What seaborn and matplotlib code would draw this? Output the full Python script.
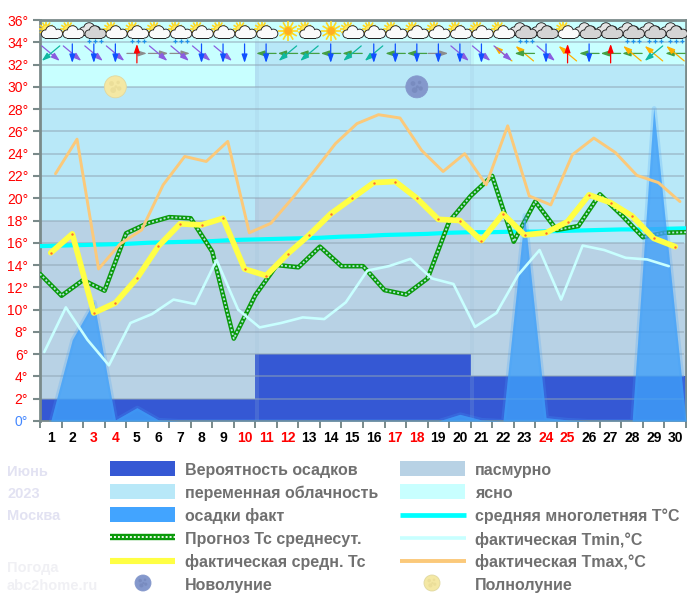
import numpy as np
import pandas as pd
import matplotlib
matplotlib.use("Agg")
import matplotlib.pyplot as plt
from matplotlib.patches import Circle, Rectangle
from matplotlib.transforms import ScaledTranslation
import seaborn as sns

sns.set_style("white")
plt.rcParams['font.family'] = ['Liberation Sans', 'DejaVu Sans']

# ---------- data ----------
days = list(range(1, 31))
weekend_days = [3, 4, 10, 11, 12, 17, 18, 24, 25]
y_ticks = list(range(0, 38, 2))

decade_start = [0, 10, 20]
overcast_top = [18, 20, 16]
partly_top = [30, 34, 32]
clear_top = [36, 36, 36]
precip_prob = [2, 6, 4]

rain_fact = [0, 7.3, 10.7, 0.1, 1.2, 0.1, 0, 0, 0, 0, 0, 0, 0, 0, 0, 0, 0, 0, 0, 0.6,
             0.1, 0, 18.5, 0.3, 0.1, 0, 0, 0, 28.1, 9.3]
t_forecast = [13.2, 11.25, 12.65, 11.7, 16.85, 17.75, 18.3, 18.2, 15.2, 7.4, 11.3, 14.0, 13.8,
              15.65, 13.9, 13.9, 11.75, 11.35, 12.8, 17.9, 20.2, 22.0, 16.1, 19.7, 17.15,
              17.5, 20.35, 18.5, 16.5, 16.9, 16.95]
t_normal = [15.7, 15.75, 15.8, 15.85, 15.9, 16.0, 16.05, 16.1, 16.15, 16.25, 16.3, 16.35, 16.4,
            16.45, 16.55, 16.6, 16.7, 16.75, 16.8, 16.9, 16.95, 16.95, 17.0, 17.0, 17.05,
            17.1, 17.15, 17.2, 17.2, 17.25, 17.3]
t_mean = [15.1, 16.8, 9.7, 10.6, 12.8, 15.7, 17.7, 17.6, 18.2, 13.65, 13.05, 15.0, 16.7, 18.6, 20.0,
          21.4, 21.5, 20.0, 18.1, 18.0, 16.2, 18.6, 16.7, 16.9, 17.9, 20.3, 19.6, 18.4, 16.4, 15.65]
t_min = [6.2, 10.2, 7.3, 5.0, 8.8, 9.6, 10.9, 10.5, 14.45, 10.0, 8.4, 8.8, 9.3, 9.15, 10.65,
         13.5, 13.9, 14.55, 12.8, 12.3, 8.45, 9.7, 13.1, 15.35, 10.9, 15.75, 15.35, 14.65, 14.5, 13.9]
t_max = [22.2, 25.3, 13.65, 15.9, 17.15, 21.2, 23.75, 23.3, 25.1, 16.9, 17.75, 20.0, 22.4, 24.9, 26.7,
         27.5, 27.2, 24.3, 22.4, 24.0, 21.2, 26.5, 20.2, 19.4, 23.9, 25.4, 24.1, 22.05, 21.4, 19.7]

sky_icons = ['p', 'p', 'gr', 'p', 'pr', 'p', 'pr', 'p', 'p', 'p', 'p', 's', 'p', 's', 'p',
             'p', 'p', 'p', 'p', 'p', 'p', 'p', 'gr', 'g', 'p', 'g', 'g', 'gr', 'gr', 'gr']
wind_arrows = [['V', 'T'], ['V', 'B'], ['V', 'B'], ['V', 'B'], ['Y', 'R'], ['Y', 'V'], ['Y', 'V'],
               ['V', 'B'], ['V', 'B'], ['B'], ['G', 'B'], ['G', 'T'], ['G', 'T'], ['G', 'B'],
               ['G', 'T'], ['T', 'B'], ['G', 'B'], ['G', 'B'], ['Y', 'B'], ['V', 'B'], ['V', 'B'],
               ['O', 'V'], ['O', 'G'], ['V', 'B'], ['O', 'R'], ['G', 'B'], ['G', 'R'], ['G', 'O'],
               ['O', 'T'], ['G', 'O']]
full_moon_day = 4
new_moon_day = 18
moon_temp = 30

legend_left = ['Вероятность осадков', 'переменная облачность', 'осадки факт',
               'Прогноз Тс среднесут.', 'фактическая средн. Тс', 'Новолуние']
legend_right = ['пасмурно', 'ясно', 'средняя многолетняя Т°С',
                'фактическая Tmin,°C', 'фактическая Tmax,°C', 'Полнолуние']
side_top = ['Июнь', '2023', 'Москва']
side_bottom = ['Погода', 'abc2home.ru']

# ---------- styles ----------
C_OVER, C_PART, C_CLEAR = '#B8D2E5', '#B8E8F8', '#C8FFFF'
C_PROB, C_RAIN = '#3558D4', '#40A0F9'
C_NORM, C_MEAN, C_MIN, C_MAX = '#00FFFF', '#FFFF44', '#C8FFFF', '#FBC97A'
C_FC = '#0A9A0A'
ARROWS = {'V': ((9, 7.5), '#8A5CE0'), 'T': ((-9, 7.5), '#10B8A0'), 'B': ((0, 9.5), '#1050FF'),
          'R': ((0, -9.5), '#FF0000'), 'Y': ((10, 0), '#8C8C8C'), 'G': ((-10, 0), '#44A044'),
          'O': ((-9, -7.5), '#FFB000')}

W, H = 687, 599
fig = plt.figure(figsize=(W / 100, H / 100), dpi=100, facecolor='white')
ax = fig.add_axes([40 / W, (H - 421) / H, 646 / W, 401 / H])
ax.set_xlim(0, 30)
ax.set_ylim(0, 36)

# sky bands
for s, o, p, c, pr in zip(decade_start, overcast_top, partly_top, clear_top, precip_prob):
    ax.bar(s + 5, o, width=10, color=C_OVER, lw=0, zorder=1)
    ax.bar(s + 5, p - o, bottom=o, width=10, color=C_PART, lw=0, zorder=1)
    ax.bar(s + 5, c - p, bottom=p, width=10, color=C_CLEAR, lw=0, zorder=1)
    ax.bar(s + 5, pr, width=10, color=C_PROB, lw=0, zorder=1.5)
for s in decade_start[1:]:
    ax.axvspan(s - 0.02, s + 0.16, color='#9CC0D8', alpha=0.18, lw=0, zorder=1.6)

for t in y_ticks[1:-1]:
    ax.plot([0, 29.93], [t, t], color='#90A4B4', alpha=0.6, lw=1.15, zorder=2, solid_capstyle='butt')

day_c = np.array(days) - 0.5
frame_fc = pd.DataFrame({'x': np.arange(31), 'y': t_forecast})
frame_norm = pd.DataFrame({'x': np.arange(31), 'y': t_normal})
frame_mean = pd.DataFrame({'x': day_c, 'y': t_mean})
frame_min = pd.DataFrame({'x': day_c - 0.3, 'y': t_min})
frame_max = pd.DataFrame({'x': day_c + 0.22, 'y': t_max})

kw = dict(x='x', y='y', ax=ax, legend=False, errorbar=None, sort=False)
sns.lineplot(data=frame_norm, color=C_NORM, lw=3.0, zorder=3, **kw)
sns.lineplot(data=frame_fc, color=C_FC, lw=3.3, zorder=3.2, **kw)
sns.lineplot(data=frame_fc, color='#B4E4E4', lw=1.3, zorder=3.3, dashes=(1.1, 1.1), **kw)

rx = np.r_[day_c, 30]
ry = np.r_[rain_fact, 0]
ax.fill_between(rx, 0, ry, color=C_RAIN, alpha=0.22, lw=3.5, zorder=3.5)
ax.fill_between(rx, 0, ry, color=C_RAIN, alpha=0.75, lw=0, zorder=3.6)

sns.lineplot(data=frame_min, color=C_MIN, lw=1.9, zorder=4, **kw)
sns.lineplot(data=frame_max, color=C_MAX, lw=2.1, zorder=4.1, **kw)
sns.lineplot(data=frame_mean, color=C_MEAN, lw=4.1, zorder=4.2, **kw)
sns.scatterplot(data=frame_mean, x='x', y='y', ax=ax, color='#FF6A30', s=3, lw=0, zorder=4.3, legend=False)

# axes
ax.set_xlabel('')
ax.set_ylabel('')
for n, sp in ax.spines.items():
    sp.set_visible(True)
    sp.set_color('#7A8A8A')
    sp.set_linewidth(2.0 if n in ('left', 'top', 'right') else 1.3)
ax.set_yticks(y_ticks)
ax.set_yticklabels([f'{t}°' for t in y_ticks])
down2 = ScaledTranslation(0, -2 / 100, fig.dpi_scale_trans)
for t, lab in zip(y_ticks, ax.get_yticklabels()):
    lab.set_color('#4488FF' if t == 0 else '#FF0000')
    lab.set_transform(lab.get_transform() + down2)
ax.tick_params(axis='y', length=5, width=1.5, color='#7A8A8A', pad=3.5, labelsize=10, left=True)
ax.set_xticks(range(31))
ax.set_xticklabels([])
ax.tick_params(axis='x', which='major', length=5, width=1.4, color='#7A8A8A', bottom=True)
ax.set_xticks(day_c, minor=True)
ax.set_xticklabels([str(d) for d in days], minor=True, fontweight='bold')
ax.tick_params(axis='x', which='minor', length=0, pad=7.5, labelsize=10)
for d, lab in zip(days, ax.get_xticklabels(minor=True)):
    lab.set_color('#FF0000' if d in weekend_days else '#000000')

# overlay in pixel space for icons and legend
ov = fig.add_axes([0, 0, 1, 1], facecolor='none')
ov.set_xlim(0, W)
ov.set_ylim(H, 0)
ov.axis('off')


def to_px(x, y):
    p = ax.transData.transform((x, y))
    return p[0], H - p[1]


def moon(cx, cy, r, base, spot, edge):
    ov.add_patch(Circle((cx, cy), r, fc=base, ec=edge, lw=0.6, zorder=6))
    for dx, dy, rr in [(-.35, -.3, .22), (.25, -.4, .16), (.35, .15, .2), (-.2, .3, .26), (.05, .0, .14)]:
        ov.add_patch(Circle((cx + dx * r, cy + dy * r), rr * r, fc=spot, ec='none', alpha=.3, zorder=6.1))


def cloud(cx, cy, fill, z):
    parts = [(-6.8, 2.0, 3.6), (-1.2, -.8, 5.0), (5.8, 1.6, 4.0)]
    for dx, dy, r in parts:
        ov.add_patch(Circle((cx + dx, cy + dy), r + .9, fc='#222222', ec='none', zorder=z))
    ov.add_patch(Rectangle((cx - 6.8, cy + 1), 12.6, 5.5, fc='#222222', ec='none', zorder=z))
    for dx, dy, r in parts:
        ov.add_patch(Circle((cx + dx, cy + dy), r, fc=fill, ec='none', zorder=z + .01))
    ov.add_patch(Rectangle((cx - 6.8, cy + 1), 12.6, 4.6, fc=fill, ec='none', zorder=z + .01))


def sun(cx, cy, r, ray, core):
    for a in np.arange(0, 2 * np.pi, np.pi / 6):
        ov.plot([cx + r * np.cos(a), cx + ray * np.cos(a)], [cy + r * np.sin(a), cy + ray * np.sin(a)],
                color='#FFD820', lw=1.2, zorder=6, solid_capstyle='butt')
    ov.add_patch(Circle((cx, cy), r, fc=core, ec='#FFD820', lw=.8, zorder=6.01))


def rain_dots(cx, y):
    for dx in (-6, 0, 6):
        ov.plot([cx + dx], [y], marker='+', ms=3.2, mew=.9, color='#2090E8', zorder=6.5)


for d, code in zip(days, sky_icons):
    cx, _ = to_px(d - .5, 35)
    if code == 's':
        sun(cx + .5, 31, 4.5, 10, '#FFB020')
    elif code[0] == 'p':
        sun(cx - 4.5, 29, 4, 7.5, '#FFE860')
        cloud(cx + 1.5, 32, '#FAFAFA', 6.2)
    else:
        cloud(cx - 3.5, 29, '#E4E4E4', 6.1)
        cloud(cx + 2, 32, '#D4D4D4', 6.2)
    if code.endswith('r'):
        rain_dots(cx + 1, 41)

for d, codes in zip(days, wind_arrows):
    cx, cy = to_px(d - .5, 33)
    for code in codes:
        (hx, hy), col = ARROWS[code]
        ov.annotate('', xy=(cx + hx, cy + hy), xytext=(cx - hx, cy - hy),
                    arrowprops=dict(arrowstyle='-|>,head_width=0.17,head_length=0.5', color=col, lw=.9,
                                    shrinkA=0, shrinkB=0, mutation_scale=10), zorder=7)

mx, my = to_px(full_moon_day - .5, moon_temp)
moon(mx, my, 11, '#F4E8A4', '#D8C880', '#E0D8A0')
mx, my = to_px(new_moon_day - .5, moon_temp)
moon(mx, my, 11, '#8498CC', '#5E70A4', '#8498CC')

# legend
row_y = [469, 492, 515, 538, 561, 584]
for y, t in zip(row_y, legend_left):
    ov.text(185, y + 1.5, t, color='#707070', fontsize=11.5, fontweight='bold', va='center', ha='left')
for y, t in zip(row_y, legend_right):
    ov.text(475, y + 1.5, t, color='#707070', fontsize=11.5, fontweight='bold', va='center', ha='left')


def swatch(x, y, c):
    ov.add_patch(Rectangle((x, y - 8), 65, 15, fc=c, ec='none'))


swatch(110, row_y[0], C_PROB)
swatch(110, row_y[1], C_PART)
swatch(110, row_y[2], '#42A4FF')
swatch(400, row_y[0], C_OVER)
swatch(400, row_y[1], C_CLEAR)
ov.plot([110, 175], [row_y[3] - 1] * 2, color=C_FC, lw=4.6, solid_capstyle='butt')
ov.plot([110, 175], [row_y[3] - 1] * 2, color='#FFFFFF', lw=1.3, dashes=(1.1, 1.1))
ov.plot([110, 175], [row_y[4]] * 2, color=C_MEAN, lw=4.4, solid_capstyle='butt')
ov.plot([400, 466], [row_y[2]] * 2, color=C_NORM, lw=3.4, solid_capstyle='butt')
ov.plot([400, 466], [row_y[3]] * 2, color=C_MIN, lw=2.6, solid_capstyle='butt')
ov.plot([400, 466], [row_y[4]] * 2, color=C_MAX, lw=2.8, solid_capstyle='butt')
moon(143, 583, 8, '#8498CC', '#5E70A4', '#8498CC')
moon(432, 583, 8, '#F4E8A4', '#D8C880', '#E0D8A0')

for y, t in zip([472, 494, 516], side_top):
    ov.text(7, y, t, color='#E2E2F2', fontsize=10.5, fontweight='bold', va='center')
for y, t in zip([568, 586], side_bottom):
    ov.text(7, y, t, color='#F0F0F4', fontsize=10.5, fontweight='bold', va='center')

fig.savefig('out.png', dpi=100, facecolor='white')
